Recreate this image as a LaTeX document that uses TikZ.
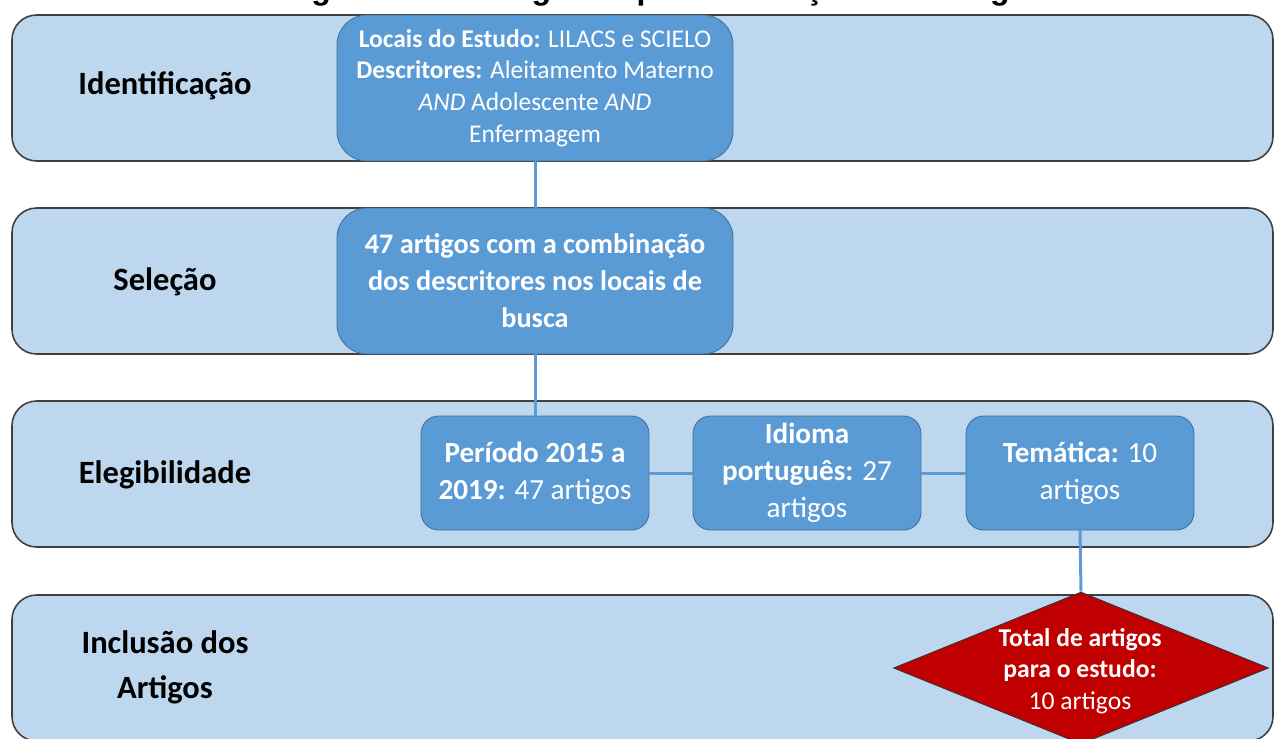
\documentclass[tikz,border=0pt]{standalone}
\usepackage{fontspec}
\setmainfont{Carlito}
\newfontfamily\titlefont{Liberation Sans}
\usepackage{xcolor}
\definecolor{bandBlue}{HTML}{BDD7EE}
\definecolor{boxBlue}{HTML}{5B9BD5}
\definecolor{boxEdge}{HTML}{41719C}
\definecolor{totalRed}{HTML}{C00000}
\usetikzlibrary{shapes.geometric}
\tikzset{
    band/.style={draw=black!75, line width=0.9pt, fill=bandBlue, rounded corners=14pt},
    stage/.style={font=\bfseries\fontsize{18.5}{25.5}\selectfont, align=center, text=black},
    blueBox/.style={draw=boxEdge, line width=0.5pt, fill=boxBlue, text=white, align=center, inner sep=0pt},
    link/.style={draw=boxBlue, line width=1.7pt},
    totalBox/.style={diamond, draw=black!80, line width=0.5pt, fill=totalRed, inner sep=0pt}
}

\begin{document}
\begin{tikzpicture}[x=0.02cm, y=-0.02cm]
  % picture frame, pixel units with y downwards
  \useasboundingbox (0,0) rectangle (1274,738);

  % title, cut off by the top edge
  \node[anchor=base, font=\titlefont\bfseries\fontsize{18.2}{20}\selectfont] (title) at (665,-1)
    {Figura 1 -- Fluxograma para a Seleção dos Artigos};

  % the four bands
  \def\bandL{12}
  \def\bandR{1273}
  \draw[band] (\bandL,15)  rectangle (\bandR,161);
  \draw[band] (\bandL,208) rectangle (\bandR,354);
  \draw[band] (\bandL,401) rectangle (\bandR,547);
  \draw[band] (\bandL,595) rectangle (\bandR,741);

  % stage names
  \node[stage] (sId)  at (165,86)  {Identificação};
  \node[stage] (sSel) at (165,282) {Seleção};
  \node[stage] (sEle) at (165,475) {Elegibilidade};
  \node[stage] (sInc) at (165,667) {Inclusão dos\\Artigos};

  % identification and selection boxes
  \node[blueBox, rounded corners=17pt, minimum width=7.92cm, minimum height=2.92cm,
        font=\fontsize{14.5}{18}\selectfont] (locais) at (535,88)
    {\textbf{Locais do Estudo:} LILACS e SCIELO\\
     \textbf{Descritores:} Aleitamento Materno\\
     \textit{AND} Adolescente \textit{AND}\\
     Enfermagem};
  \node[blueBox, rounded corners=17pt, minimum width=7.92cm, minimum height=2.92cm,
        font=\bfseries\fontsize{16.1}{21}\selectfont] (busca) at (535,281)
    {47 artigos com a combinação\\
     dos descritores nos locais de\\
     busca};

  % eligibility boxes
  \node[blueBox, rounded corners=10pt, minimum width=4.56cm, minimum height=2.28cm,
        font=\fontsize{16.6}{21}\selectfont] (periodo) at (535,473)
    {\textbf{Período 2015 a}\\\textbf{2019:} 47 artigos};
  \node[blueBox, rounded corners=10pt, minimum width=4.56cm, minimum height=2.28cm,
        font=\fontsize{16.6}{21}\selectfont] (idioma) at (807,473)
    {\textbf{Idioma}\\\textbf{português:} 27\\artigos};
  \node[blueBox, rounded corners=10pt, minimum width=4.56cm, minimum height=2.28cm,
        font=\fontsize{16.6}{21}\selectfont] (tematica) at (1080,473)
    {\textbf{Temática:} 10\\artigos};

  % final count
  \node[totalBox, minimum width=7.5cm, minimum height=3.04cm] (total) at (1081,668) {};
  \node[align=center, text=white, font=\fontsize{14.6}{18}\selectfont] (totalTxt) at (1080,671)
    {\textbf{Total de artigos}\\\textbf{para o estudo:}\\10 artigos};

  % connectors
  \draw[link] (locais.south) -- (busca.north);
  \draw[link] (busca.south) -- (periodo.north);
  \draw[link] (periodo.east) -- (idioma.west);
  \draw[link] (idioma.east) -- (tematica.west);
  \draw[link] (tematica.south) -- (total.north);
\end{tikzpicture}
\end{document}
